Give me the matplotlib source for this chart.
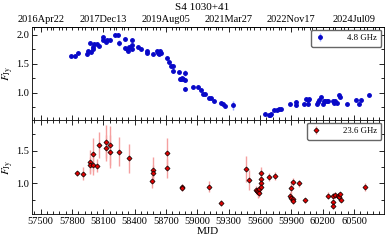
import numpy as np
import matplotlib
matplotlib.use("Agg")
import matplotlib.pyplot as plt
from matplotlib.ticker import MultipleLocator, FixedLocator

plt.rcParams['font.family'] = ['Liberation Serif', 'DejaVu Serif']
plt.rcParams['mathtext.fontset'] = 'stix'

title = "S4 1030+41"
label_top = "4.8 GHz"
label_bot = "23.6 GHz"
mjd_ticks = [57500, 57800, 58100, 58400, 58700, 59000, 59300, 59600, 59900, 60200, 60500]
date_ticks = [57500, 58100, 58700, 59300, 59900, 60500]
date_labels = ["2016Apr22", "2017Dec13", "2019Aug05", "2021Mar27", "2022Nov17", "2024Jul09"]

# 4.8 GHz
mjd_c = [57787, 57826, 57857, 57940, 57953, 57972, 57979, 57998, 58004, 58010,
         58036, 58061, 58094, 58100, 58125, 58138, 58164, 58214, 58240, 58247,
         58310, 58310, 58323, 58336, 58342, 58374, 58374, 58374, 58432, 58463,
         58521, 58521, 58578, 58611, 58620, 58630, 58640, 58649, 58706, 58731,
         58745, 58764, 58764, 58827, 58835, 58845, 58856, 58866, 58879, 58879,
         58879, 58962, 59006, 59032, 59051, 59070, 59115, 59134, 59159, 59223,
         59249, 59262, 59344, 59650, 59689, 59700, 59708, 59734, 59760, 59785,
         59798, 59887, 59944, 59944, 60021, 60041, 60055, 60055, 60066, 60143,
         60152, 60162, 60187, 60200, 60215, 60225, 60240, 60251, 60299, 60310,
         60322, 60334, 60359, 60366, 60430, 60519, 60551, 60564, 60647]
flux_c = [1.63, 1.63, 1.69, 1.67, 1.71, 1.85, 1.70, 1.79, 1.75, 1.84,
          1.83, 1.81, 1.91, 1.955, 1.88, 1.90, 1.90, 2.00, 2.00, 1.86,
          1.926, 1.776, 1.75, 1.72, 1.78, 1.91, 1.82, 1.75, 1.79, 1.75,
          1.71, 1.69, 1.66, 1.72, 1.69, 1.66, 1.72, 1.69, 1.59, 1.52,
          1.465, 1.465, 1.38, 1.36, 1.24, 1.23, 1.25, 1.23, 1.345, 1.22,
          1.07, 1.10, 1.09, 1.05, 0.98, 0.98, 0.90, 0.90, 0.86, 0.83,
          0.80, 0.77, 0.78, 0.63, 0.62, 0.62, 0.63, 0.70, 0.71, 0.72,
          0.72, 0.81, 0.845, 0.78, 0.80, 0.89, 0.88, 0.80, 0.89, 0.80,
          0.84, 0.87, 0.93, 0.80, 0.86, 0.85, 0.86, 0.85, 0.85, 0.82,
          0.85, 0.82, 0.96, 0.92, 0.80, 0.87, 0.80, 0.87, 0.96]
err_c = [0.01, 0.01, 0.01, 0.04, 0.02, 0.02, 0.02, 0.03, 0.02, 0.02,
         0.01, 0.01, 0.02, 0.02, 0.02, 0.02, 0.02, 0.03, 0.02, 0.05,
         0.01, 0.02, 0.02, 0.02, 0.02, 0.01, 0.02, 0.02, 0.01, 0.01,
         0.02, 0.02, 0.01, 0.02, 0.04, 0.02, 0.02, 0.02, 0.02, 0.02,
         0.02, 0.02, 0.02, 0.02, 0.03, 0.02, 0.02, 0.02, 0.05, 0.03,
         0.03, 0.01, 0.01, 0.02, 0.02, 0.01, 0.01, 0.01, 0.01, 0.01,
         0.02, 0.02, 0.08, 0.01, 0.01, 0.02, 0.01, 0.01, 0.01, 0.01,
         0.01, 0.01, 0.02, 0.02, 0.01, 0.02, 0.02, 0.02, 0.01, 0.02,
         0.02, 0.02, 0.02, 0.02, 0.02, 0.02, 0.02, 0.01, 0.02, 0.02,
         0.02, 0.02, 0.02, 0.02, 0.01, 0.02, 0.02, 0.02, 0.02]

# 23.6 GHz
mjd_k = [57850, 57902, 57972, 57972, 57998, 58004, 58036, 58061, 58125, 58125,
         58164, 58164, 58253, 58343, 58566, 58578, 58578, 58706, 58706, 58853,
         58853, 59109, 59223, 59466, 59497, 59562, 59572, 59580, 59586, 59593,
         59612, 59612, 59612, 59612, 59689, 59740, 59888, 59895, 59900, 59918,
         59912, 59918, 59976, 60028, 60251, 60296, 60296, 60296, 60321, 60345,
         60360, 60368, 60373, 60602]
flux_k = [1.153, 1.147, 1.33, 1.28, 1.445, 1.28, 1.27, 1.59, 1.64, 1.535,
          1.58, 1.485, 1.485, 1.383, 1.035, 1.21, 1.153, 1.46, 1.23, 0.945,
          0.93, 0.95, 0.70, 1.22, 1.05, 0.90, 0.88, 0.86, 0.91, 0.85,
          1.153, 1.06, 1.00, 0.94, 1.10, 1.11, 0.81, 0.93, 0.78, 1.015,
          0.755, 0.73, 1.00, 0.74, 0.81, 0.805, 0.71, 0.66, 0.82, 0.81,
          0.79, 0.83, 0.75, 0.95]
err_k = [0.04, 0.10, 0.18, 0.12, 0.25, 0.15, 0.10, 0.20, 0.25, 0.20,
         0.30, 0.25, 0.22, 0.22, 0.10, 0.20, 0.12, 0.24, 0.15, 0.05,
         0.05, 0.08, 0.05, 0.20, 0.15, 0.06, 0.06, 0.08, 0.06, 0.06,
         0.10, 0.08, 0.06, 0.06, 0.06, 0.06, 0.06, 0.10, 0.06, 0.06,
         0.05, 0.05, 0.05, 0.04, 0.05, 0.05, 0.05, 0.06, 0.04, 0.04,
         0.04, 0.04, 0.04, 0.06]

W, H = 389, 241
fig = plt.figure(figsize=(W / 100, H / 100), dpi=100)
ax1 = fig.add_axes([32 / W, (H - 120) / H, 352 / W, 93 / H])
ax2 = fig.add_axes([32 / W, (H - 214) / H, 352 / W, 94 / H], sharex=ax1)

fs = 7.5
ax1.errorbar(mjd_c, flux_c, yerr=err_c, fmt='o', color='#0808c8', ms=2.5,
             ecolor='#9aa8ff', elinewidth=1.0, capsize=0, label=label_top, zorder=3)
ax2.errorbar(mjd_k, flux_k, yerr=err_k, fmt='D', mfc='#e00000', mec='black', mew=0.5,
             ms=2.6, ecolor='#f5a0a0', elinewidth=1.0, capsize=0, label=label_bot, zorder=3)

ax1.set_xlim(57417, 60787)
ax1.set_ylim(0.53, 2.13)
ax2.set_ylim(0.53, 1.97)

minor_x = np.arange(57380, 60800, 60)
for ax in (ax1, ax2):
    ax.xaxis.set_major_locator(FixedLocator(mjd_ticks))
    ax.xaxis.set_minor_locator(FixedLocator(minor_x))
    ax.yaxis.set_major_locator(MultipleLocator(0.5))
    ax.yaxis.set_minor_locator(MultipleLocator(0.25))
    ax.tick_params(which='both', direction='in', top=True, right=True, labelsize=fs,
                   width=0.6, pad=2)
    ax.tick_params(which='major', length=3.5)
    ax.tick_params(which='minor', length=2)
    for s in ax.spines.values():
        s.set_linewidth(0.6)
    ax.set_ylabel(r'$F_{\rm Jy}$', fontsize=fs + 0.5)
    ax.yaxis.set_label_coords(-0.045, 0.5)
    ax.legend(loc='upper right', fontsize=6.3, handlelength=1.0, borderpad=0.5,
              handletextpad=2.6, framealpha=1, edgecolor='#666666', fancybox=True,
              borderaxespad=0.3)

ax1.tick_params(labelbottom=False, top=False)
ax2.set_yticks([1.0, 1.5])
ax2.set_xlabel('MJD', fontsize=fs + 0.5, labelpad=1)

sec = ax1.secondary_xaxis('top')
sec.set_xticks(date_ticks)
sec.set_xticklabels(date_labels)
sec.xaxis.set_minor_locator(FixedLocator(np.arange(57400, 60800, 100)))
sec.tick_params(which='both', direction='in', labelsize=fs, width=0.6, pad=2)
sec.tick_params(which='major', length=3.5)
sec.tick_params(which='minor', length=2)
sec.spines['top'].set_linewidth(0.6)

fig.text(202 / W, 1 - 8 / H, title, ha='center', va='center', fontsize=fs + 0.5)

fig.savefig('out.png', dpi=100)
